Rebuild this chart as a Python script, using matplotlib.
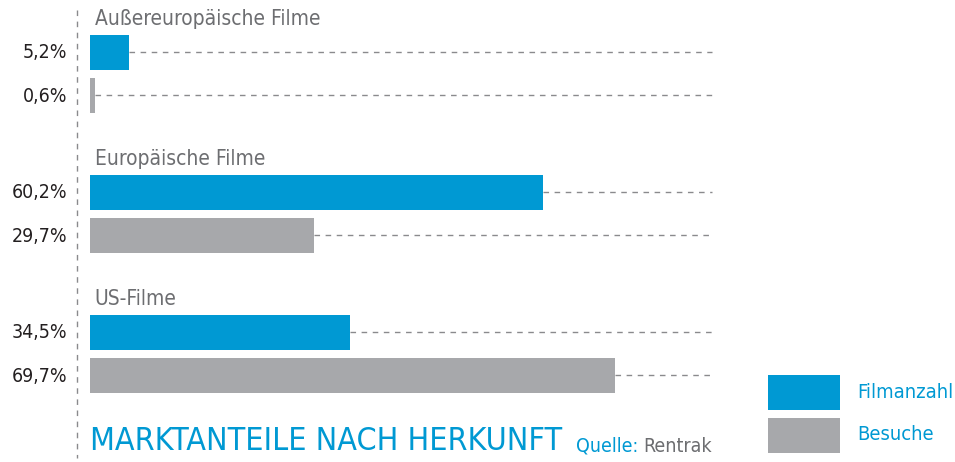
import matplotlib
matplotlib.use('Agg')
import matplotlib.pyplot as plt

# Data
groups = ['Außereuropäische Filme', 'Europäische Filme', 'US-Filme']
filmanzahl = [5.2, 60.2, 34.5]
besuche = [0.6, 29.7, 69.7]
series_names = ['Filmanzahl', 'Besuche']

BLUE = '#0099d3'
GRAY = '#a7a8ab'
plt.rcParams['font.family'] = ['DejaVu Sans']
plt.rcParams['font.stretch'] = 'condensed'

fig = plt.figure(figsize=(9.55, 4.62), dpi=100)
ax = fig.add_axes([0, 0, 1, 1])

# 1 % == 7.53 px, bars start at x = 90 px
scale = 7.53
x0 = 90 / scale
ax.set_xlim(-x0, (955 - 90) / scale)
ax.set_ylim(462, 0)
ax.axis('off')

line_end = (712 - 90) / scale
bar_h = 35

for i, name in enumerate(groups):
    g = 140 * i
    ax.text(0.6, 19 + g, name, fontsize=15, color='#6d6e71', va='center', ha='left')
    for val, yc, col in [(filmanzahl[i], 52 + g, BLUE), (besuche[i], 95 + g, GRAY)]:
        ax.barh(yc, val, height=bar_h, left=0, color=col)
        ax.plot([val, line_end], [yc, yc], color='#8a8a8d', lw=1, dashes=(4, 4))
        label = f'{val:.1f}'.replace('.', ',') + '%'
        ax.text(-23 / scale, yc + 1, label, fontsize=14, color='#231f20',
                ha='right', va='center')

# dashed vertical axis
ax.plot([-13 / scale, -13 / scale], [10, 458], color='#8a8a8d', lw=1, dashes=(4, 4))

# title and source
ax.text(0, 441, 'MARKTANTEILE NACH HERKUNFT', fontsize=23, color=BLUE,
        ha='left', va='center')
ax.text((712 - 90) / scale, 446, 'Rentrak', fontsize=14, color='#6d6e71',
        ha='right', va='center')
ax.text((638 - 90) / scale, 446, 'Quelle:', fontsize=14, color=BLUE,
        ha='right', va='center')

# legend
for j, (name, col) in enumerate(zip(series_names, [BLUE, GRAY])):
    yc = 392 + 43 * j
    ax.barh(yc, (840 - 768) / scale, height=bar_h, left=(768 - 90) / scale, color=col)
    ax.text((857 - 90) / scale, yc, name, fontsize=14.5, color=BLUE,
            ha='left', va='center')

fig.savefig('out.png', dpi=100)
